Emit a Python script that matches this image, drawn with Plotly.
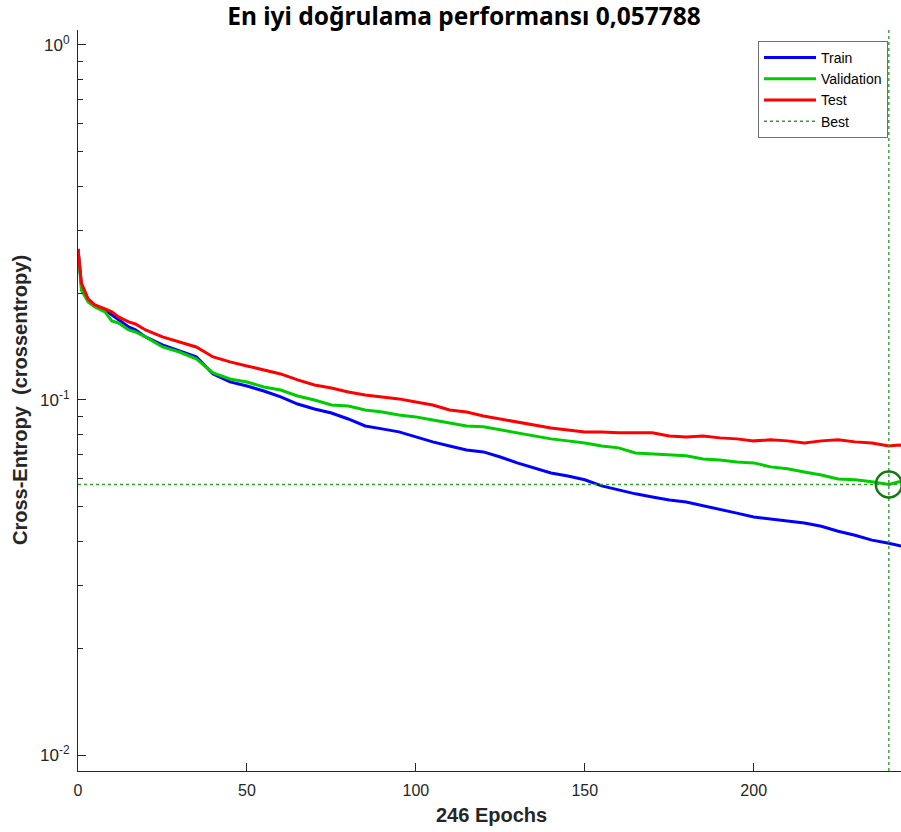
import plotly.graph_objects as go

# ---- data ----
epochs = [0, 1, 3, 5, 8, 10, 12, 15, 17, 20, 25, 30, 35, 40, 45, 50, 55, 60, 65, 70,
          75, 80, 85, 90, 95, 100, 105, 110, 115, 120, 125, 130, 135, 140, 145, 150,
          155, 160, 165, 170, 175, 180, 185, 190, 195, 200, 205, 210, 215, 220, 225,
          230, 235, 240, 243, 246]

train = [0.2663, 0.2108, 0.1913, 0.1840, 0.1793, 0.1736, 0.1680, 0.1606, 0.1575, 0.1505,
         0.1429, 0.1374, 0.1322, 0.1184, 0.1124, 0.1095, 0.1060, 0.1020, 0.0974, 0.0943,
         0.0919, 0.0884, 0.0845, 0.0829, 0.0813, 0.0787, 0.0762, 0.0742, 0.0723, 0.0714,
         0.0691, 0.0665, 0.0644, 0.0623, 0.0611, 0.0596, 0.0573, 0.0558, 0.0544, 0.0533,
         0.0523, 0.0516, 0.0503, 0.0490, 0.0480, 0.0468, 0.0462, 0.0456, 0.0450, 0.0441,
         0.0427, 0.0416, 0.0403, 0.0395, 0.0390, 0.0383]

validation = [0.2663, 0.2041, 0.1888, 0.1828, 0.1770, 0.1669, 0.1648, 0.1575, 0.1554, 0.1505,
              0.1410, 0.1365, 0.1305, 0.1191, 0.1146, 0.1124, 0.1088, 0.1067, 0.1026, 0.1000,
              0.0968, 0.0962, 0.0937, 0.0925, 0.0907, 0.0896, 0.0878, 0.0862, 0.0845, 0.0840,
              0.0823, 0.0808, 0.0792, 0.0777, 0.0767, 0.0757, 0.0742, 0.0733, 0.0709, 0.0705,
              0.0700, 0.0696, 0.0682, 0.0678, 0.0669, 0.0665, 0.0648, 0.0640, 0.0627, 0.0615,
              0.0599, 0.0596, 0.0588, 0.057788, 0.0588, 0.0592]

test = [0.2663, 0.2136, 0.1925, 0.1852, 0.1804, 0.1770, 0.1713, 0.1659, 0.1637, 0.1575,
        0.1505, 0.1457, 0.1410, 0.1322, 0.1280, 0.1247, 0.1215, 0.1184, 0.1139, 0.1102,
        0.1081, 0.1053, 0.1033, 0.1020, 0.1007, 0.0987, 0.0968, 0.0937, 0.0925, 0.0901,
        0.0884, 0.0867, 0.0850, 0.0834, 0.0823, 0.0813, 0.0813, 0.0808, 0.0808, 0.0808,
        0.0792, 0.0787, 0.0792, 0.0782, 0.0777, 0.0767, 0.0772, 0.0767, 0.0757, 0.0767,
        0.0772, 0.0762, 0.0757, 0.0742, 0.0747, 0.0742]

best_epoch = 240
best_perf = 0.057788
n_epochs = 246

x_ticks = [0, 50, 100, 150, 200]
y_ticks = [0.01, 0.1, 1]
y_ticktext = ["10<sup>-2</sup>", "10<sup>-1</sup>", "10<sup>0</sup>"]
y_minor = [m * d for d in (0.01, 0.1) for m in range(2, 10)]

title_text = "En iyi doğrulama performansı 0,057788"
xlabel = f"{n_epochs} Epochs"
ylabel = "Cross-Entropy \u00a0(crossentropy)"

# ---- axis ranges ----
x_range = [0, 243.6]
y_log_range = [-2.045, 0.042]
y_lo, y_hi = 10 ** y_log_range[0], 10 ** y_log_range[1]

axis_col = "#262626"
font_sans = "Liberation Sans, Arial, sans-serif"

fig = go.Figure()
fig.add_trace(go.Scatter(x=epochs, y=train, mode="lines", name="Train",
                         line=dict(color="#0000ff", width=3)))
fig.add_trace(go.Scatter(x=epochs, y=validation, mode="lines", name="Validation",
                         line=dict(color="#00cc00", width=3)))
fig.add_trace(go.Scatter(x=epochs, y=test, mode="lines", name="Test",
                         line=dict(color="#ff0000", width=3)))
fig.add_trace(go.Scatter(x=[best_epoch, best_epoch], y=[y_lo, y_hi], mode="lines",
                         name="Best", line=dict(color="#2f9e2f", width=1.4, dash="dot")))
fig.add_trace(go.Scatter(x=[x_range[0], x_range[1]], y=[best_perf, best_perf], mode="lines",
                         showlegend=False, line=dict(color="#2f9e2f", width=1.4, dash="dot")))
fig.add_trace(go.Scatter(x=[best_epoch], y=[best_perf], mode="markers", showlegend=False,
                         marker=dict(symbol="circle-open", size=26, color="#137a13",
                                     line=dict(width=2.5, color="#137a13"))))

fig.update_layout(
    width=901, height=832,
    margin=dict(l=78, r=0, t=30, b=61),
    paper_bgcolor="white", plot_bgcolor="white",
    font=dict(family=font_sans, color=axis_col),
    title=dict(text=f"<b>{title_text}</b>", x=464 / 901, xanchor="center",
               y=1 - 16 / 832, yanchor="middle", yref="container",
               font=dict(family="Noto Sans, Open Sans, sans-serif", size=24.5, color="#000000")),
    xaxis=dict(range=x_range, tickvals=x_ticks, ticks="inside", ticklen=8, tickwidth=1,
               tickcolor=axis_col, showline=True, linecolor=axis_col, linewidth=1.2,
               mirror=False, showgrid=False, zeroline=False, ticklabelstandoff=5,
               tickfont=dict(size=16, color=axis_col, family=font_sans)),
    yaxis=dict(type="log", range=y_log_range, tickvals=y_ticks, ticktext=y_ticktext,
               ticks="inside", ticklen=8, tickwidth=1, tickcolor=axis_col,
               showline=True, linecolor=axis_col, linewidth=1.2, mirror=False,
               showgrid=False, zeroline=False, ticklabelstandoff=4,
               minor=dict(tickvals=y_minor, ticks="inside", ticklen=5, tickwidth=1,
                          tickcolor=axis_col, showgrid=False),
               tickfont=dict(size=17, color=axis_col, family=font_sans)),
    legend=dict(x=(758 - 78) / 823, y=(771 - 41) / 741, xanchor="left", yanchor="top",
                bgcolor="white", bordercolor="#6e6e6e", borderwidth=1,
                font=dict(size=14, color="#000000", family=font_sans),
                itemwidth=52, tracegroupgap=0),
    annotations=[
        dict(text=f"<b>{xlabel}</b>", xref="paper", yref="paper",
             x=(491 - 78) / 823, y=(771 - 815) / 741, xanchor="center", yanchor="middle",
             showarrow=False, font=dict(size=20, color=axis_col, family=font_sans)),
        dict(text=f"<b>{ylabel}</b>", xref="paper", yref="paper", textangle=-90,
             x=(20 - 78) / 823, y=(771 - 400) / 741, xanchor="center", yanchor="middle",
             showarrow=False, font=dict(size=20, color=axis_col, family=font_sans)),
    ],
)

fig.write_html("out.html", config={"displayModeBar": False})
